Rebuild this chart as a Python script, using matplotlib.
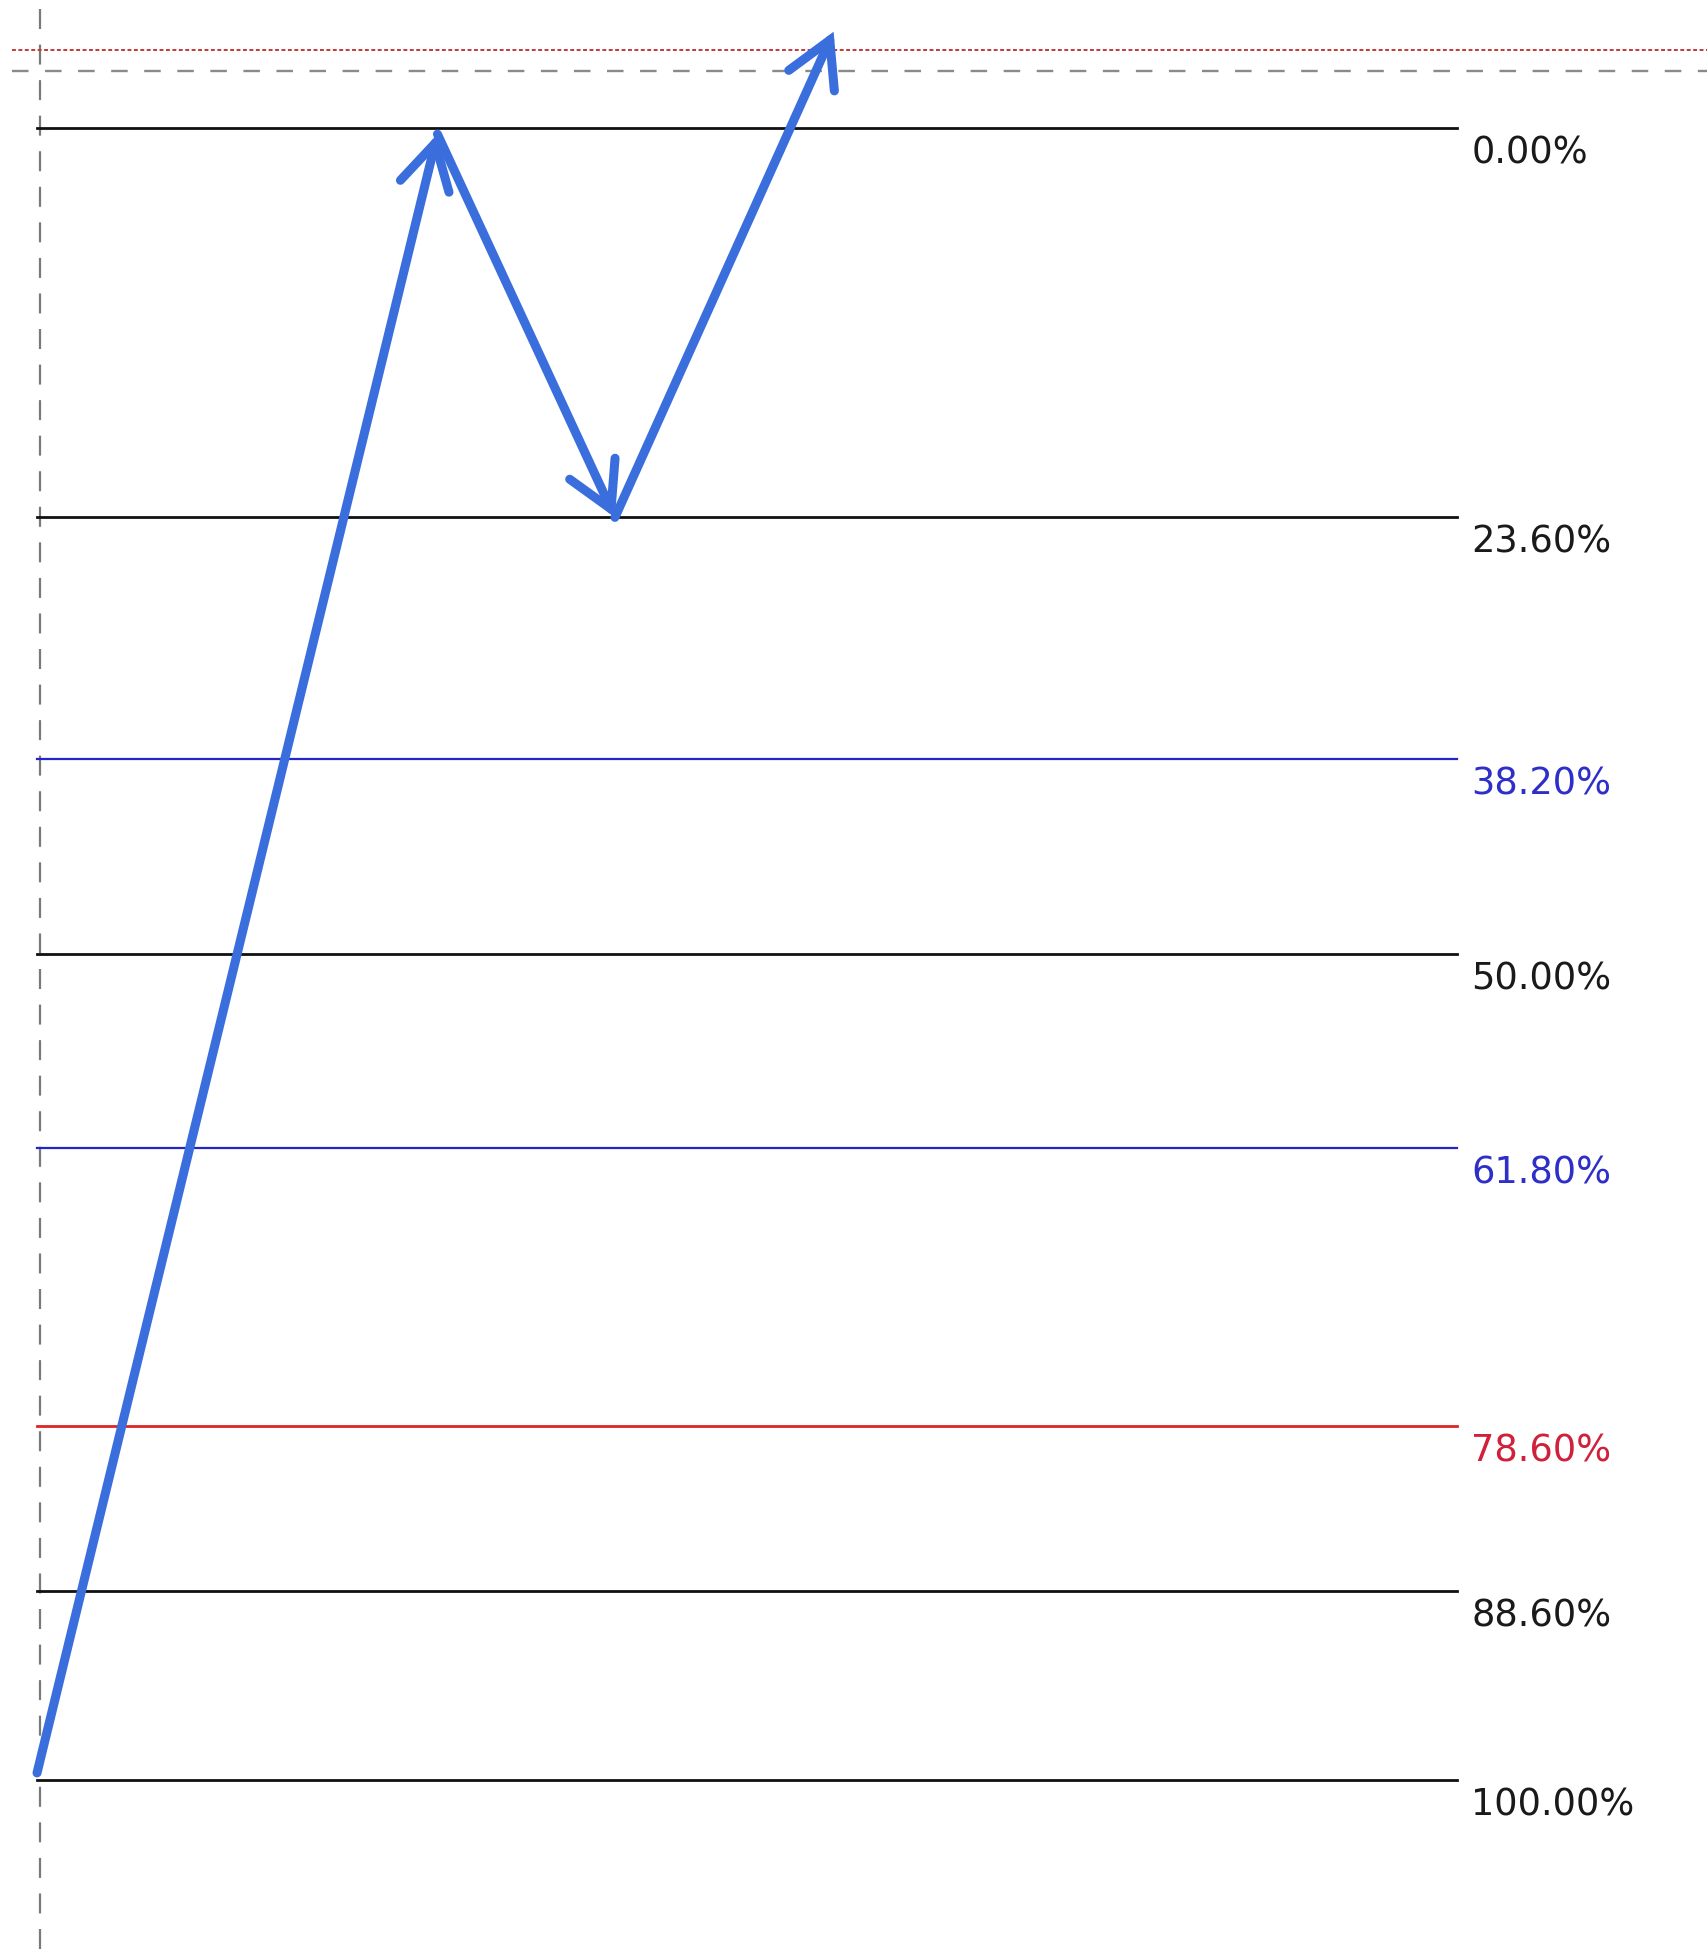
import matplotlib
matplotlib.use("Agg")
import matplotlib.pyplot as plt

# ---- data ----
fib_levels = [0.0, 23.6, 38.2, 50.0, 61.8, 78.6, 88.6, 100.0]
fib_labels = ["0.00%", "23.60%", "38.20%", "50.00%", "61.80%", "78.60%", "88.60%", "100.00%"]
fib_line_colors = ["#111111", "#111111", "#2424cc", "#111111", "#2424cc", "#dd2525", "#111111", "#111111"]
fib_text_colors = ["#1a1a1a", "#1a1a1a", "#2e2ec8", "#1a1a1a", "#2e2ec8", "#d0203a", "#1a1a1a", "#1a1a1a"]
fib_x_start = 0.0
fib_x_end = 100.0

# price swing path (time units, retracement level %)
path_x = [0.0, 28.2, 40.7, 56.1]
path_level = [99.6, 0.4, 23.6, -5.8]

# reference lines
red_dotted_level = -4.69
gray_dashed_level = -3.42
vertical_x = 0.2

fig = plt.figure(figsize=(17.08, 19.56), dpi=100)
ax = fig.add_axes([0, 0, 1, 1])
ax.set_xlim(-2.606, 117.68)
ax.set_ylim(110.62, -7.78)
ax.axis("off")

# vertical dashed line
ax.plot([vertical_x, vertical_x], [-7.2, 110.62], color="#7a7a7a", lw=1.6,
        linestyle=(0, (9, 7)), zorder=1)
# top horizontal reference lines
ax.plot([-1.76, 117.68], [red_dotted_level, red_dotted_level], color="#c23a3a",
        lw=1.4, linestyle=(0, (2, 1.3)), zorder=1)
ax.plot([-1.76, 117.68], [gray_dashed_level, gray_dashed_level], color="#8a8a8a",
        lw=1.7, linestyle=(0, (7, 7)), zorder=1)

# fib lines and labels
for lvl, lab, lc, tc in zip(fib_levels, fib_labels, fib_line_colors, fib_text_colors):
    lw = 1.6 if lc == "#2424cc" else 2.0
    ax.plot([fib_x_start, fib_x_end], [lvl, lvl], color=lc, lw=lw, zorder=2)
    ax.annotate(lab, xy=(101.0, lvl), xytext=(0, -24), textcoords="offset pixels",
                ha="left", va="center", fontsize=26.5, color=tc,
                family="DejaVu Sans")

# arrows
for i in range(len(path_x) - 1):
    ax.annotate("", xy=(path_x[i + 1], path_level[i + 1]),
                xytext=(path_x[i], path_level[i]),
                arrowprops=dict(arrowstyle="->,head_length=3.2,head_width=1.8",
                                color="#3a6edc", lw=6.5, shrinkA=0, shrinkB=0,
                                mutation_scale=10, capstyle="round",
                                joinstyle="miter"),
                zorder=5)

fig.savefig("out.png", dpi=100)
